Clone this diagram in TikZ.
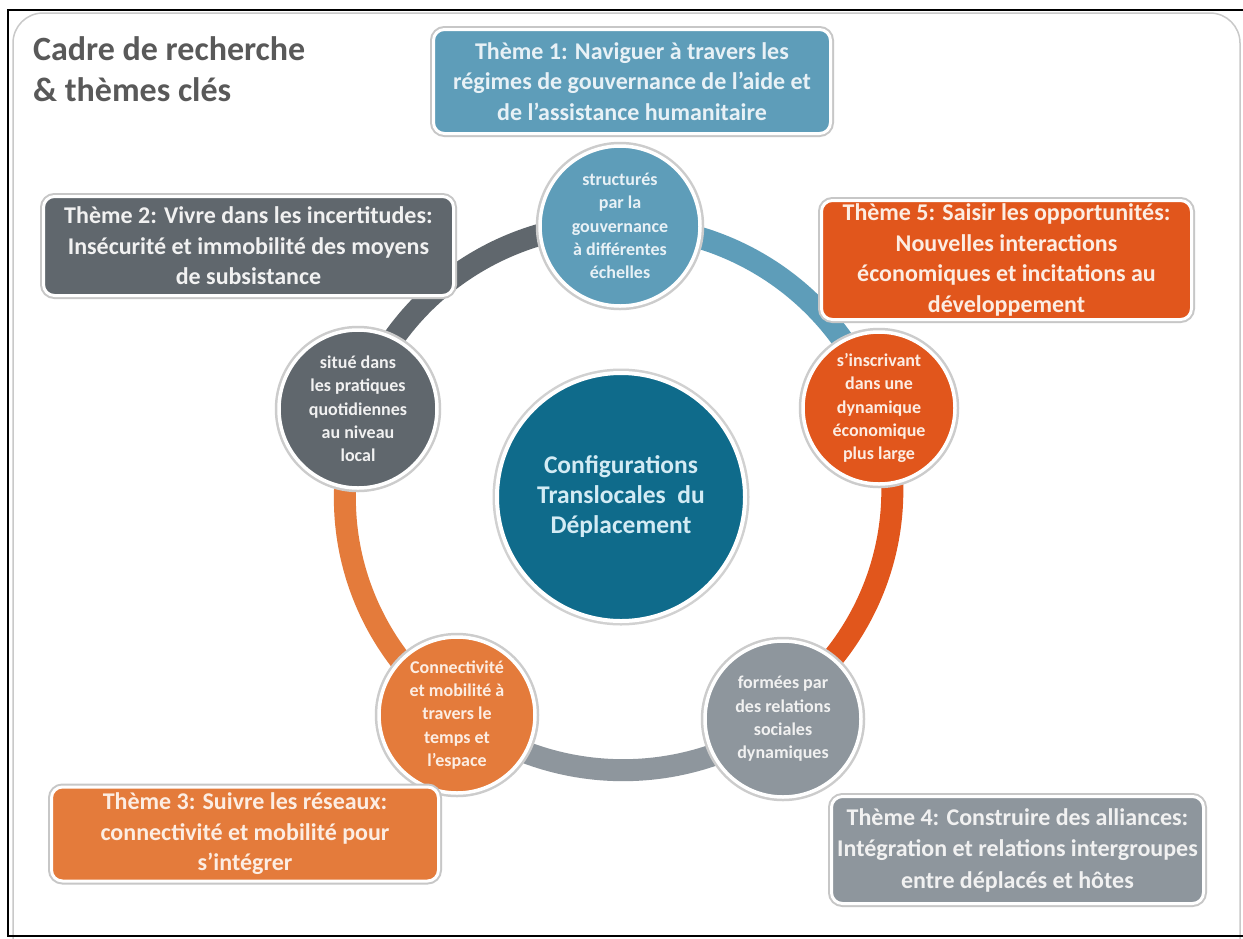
\documentclass[tikz,border=0pt]{standalone}
\usepackage{fontspec}
\setmainfont{Carlito}

\definecolor{cBlue}{HTML}{5E9DB9}
\definecolor{cDeep}{HTML}{0F6B8B}
\definecolor{cDark}{HTML}{60676D}
\definecolor{cRed}{HTML}{E1561C}
\definecolor{cOrange}{HTML}{E47B3B}
\definecolor{cGray}{HTML}{8E969D}
\definecolor{cTitle}{HTML}{595959}
\definecolor{cPanel}{HTML}{C9C9C9}
\definecolor{tBlue}{HTML}{E8F1F6}
\definecolor{tLight}{HTML}{F1F1F1}
\definecolor{tWarm}{HTML}{FCEDE3}
\definecolor{tDeep}{HTML}{D3EBF4}

\pgfdeclarelayer{panel}
\pgfdeclarelayer{ring}
\pgfsetlayers{panel,ring,main}

\tikzset{
  themebox/.style={rectangle, rounded corners=11pt, draw=white, line width=3pt,
    inner sep=0pt, align=center,
    font=\bfseries\fontsize{24}{30.5}\selectfont,
    preaction={draw=black!22, line width=7pt}},
  facet/.style={circle, draw=white, line width=3.5pt, inner sep=0pt,
    align=center, font=\bfseries\fontsize{18}{23.3}\selectfont,
    preaction={draw=black!20, line width=8.5pt}},
  hub/.style={circle, draw=white, line width=4pt, inner sep=0pt,
    align=center, font=\bfseries\fontsize{25.5}{30}\selectfont,
    preaction={draw=black!18, line width=9pt}},
  band/.style={line width=22pt, line cap=butt},
}

\begin{document}
\begin{tikzpicture}[x=1pt, y=-1pt]
\useasboundingbox (0,0) rectangle (1243,938);

% white sheet with a thin frame
\begin{pgfonlayer}{panel}
  \fill[white] (0,0) rectangle (1243,938);
  \draw[cPanel, line width=1.5pt, rounded corners=30pt, fill=white]
    (13,13) rectangle (1240,975);
  \draw[black, line width=2.4pt] (1243,10) -- (8,10) -- (8,936) -- (1243,936);
\end{pgfonlayer}

% title
\node[anchor=north west, align=left, text=cTitle,
      font=\bfseries\fontsize{34}{41}\selectfont, inner sep=0pt]
  (title) at (33,36) {Cadre de recherche\\\& thèmes clés};

% centre
\node[hub, fill=cDeep, text=tDeep, minimum size=248pt] (hub) at (621,497)
  {Configurations\\Translocales\ \ du\\Déplacement};

% five facets on the ring
\node[facet, fill=cBlue,   text=tBlue,  minimum size=160pt] (c1) at (620,226)
  {structurés\\par la\\gouvernance\\à différentes\\échelles};
\node[facet, fill=cRed,    text=tWarm,  minimum size=152pt] (c5) at (879,408)
  {s’inscrivant\\dans une\\dynamique\\économique\\plus large};
\node[facet, fill=cGray,   text=tLight, minimum size=156pt] (c4) at (783,719)
  {formées par\\des relations\\sociales\\dynamiques};
\node[facet, fill=cOrange, text=tWarm,  minimum size=156pt] (c3) at (457,715)
  {Connectivité\\et mobilité à\\travers le\\temps et\\l’espace};
\node[facet, fill=cDark,   text=tLight, minimum size=158pt] (c2) at (358,409)
  {situé dans\\les pratiques\\quotidiennes\\au niveau\\local};

% ring segments, each in the colour of the facet it leaves
\begin{pgfonlayer}{ring}
  \draw[band, cBlue]   (c1.center) arc[start angle=-90, end angle=-18, x radius=272, y radius=268];
  \draw[band, cRed]    (c5.center) arc[start angle=-18, end angle=54,  x radius=272, y radius=268];
  \draw[band, cGray]   (c4.center) arc[start angle=54,  end angle=126, x radius=272, y radius=268];
  \draw[band, cOrange] (c3.center) arc[start angle=126, end angle=198, x radius=272, y radius=268];
  \draw[band, cDark]   (c2.center) arc[start angle=198, end angle=270, x radius=272, y radius=268];
\end{pgfonlayer}

% theme boxes
\node[themebox, fill=cBlue, text=tBlue, minimum width=397pt, minimum height=104pt]
  (t1) at (632,81.5)
  {Thème 1: Naviguer à travers les\\régimes de gouvernance de l’aide et\\de l’assistance humanitaire};
\node[themebox, fill=cDark, text=tLight, minimum width=410pt, minimum height=99pt]
  (t2) at (248.5,246)
  {Thème 2: Vivre dans les incertitudes:\\Insécurité et immobilité des moyens\\de subsistance};
\node[themebox, fill=cRed, text=tWarm, minimum width=370pt, minimum height=119pt]
  (t5) at (1006.5,260)
  {Thème 5: Saisir les opportunités:\\Nouvelles interactions\\économiques et incitations au\\développement};
\node[themebox, fill=cOrange, text=tWarm, minimum width=387pt, minimum height=94pt]
  (t3) at (245,834)
  {Thème 3: Suivre les réseaux:\\connectivité et mobilité pour\\s’intégrer};
\node[themebox, fill=cGray, text=tLight, minimum width=372pt, minimum height=107pt,
      font=\bfseries\fontsize{24}{31.5}\selectfont]
  (t4) at (1017.5,850)
  {Thème 4: Construire des alliances:\\Intégration et relations intergroupes\\entre déplacés et hôtes};
\end{tikzpicture}
\end{document}
